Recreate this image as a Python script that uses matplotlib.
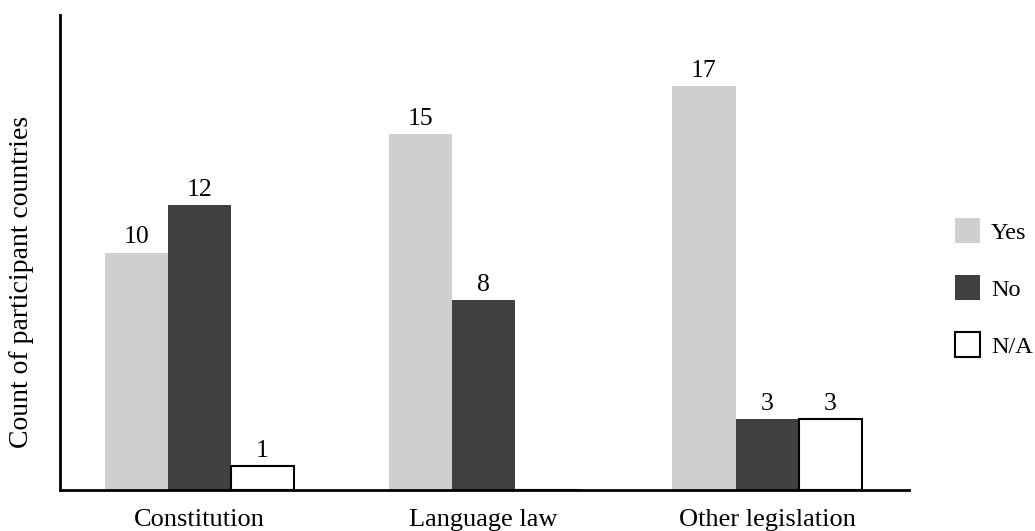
import matplotlib
matplotlib.use("Agg")
import matplotlib.pyplot as plt
import numpy as np

categories = ["Constitution", "Language law", "Other legislation"]
series_names = ["Yes", "No", "N/A"]
yes_vals = [10, 15, 17]
no_vals = [12, 8, 3]
na_vals = [1, 0, 3]

plt.rcParams['font.family'] = ['Liberation Serif', 'DejaVu Serif']

fig = plt.figure(figsize=(10.35, 5.31), dpi=100)
ax = fig.add_axes([60/1035, 1-490/531, (909-60)/1035, (490-15)/531])

x = np.arange(len(categories))
w = 0.222
styles = [dict(facecolor="#cfcfcf", edgecolor="none"),
          dict(facecolor="#404040", edgecolor="none"),
          dict(facecolor="white", edgecolor="black", linewidth=1.5)]
handles = []
for i, (vals, st) in enumerate(zip([yes_vals, no_vals, na_vals], styles)):
    pos = x + (i - 1) * w
    bars = ax.bar(pos, vals, width=w, label=series_names[i], zorder=1, **st)
    handles.append(bars)
    for p, v in zip(pos, vals):
        if v > 0:
            ax.text(p, v + 0.17, str(v), ha="center", va="bottom", fontsize=18.5)

ax.set_xlim(-0.49, 2.5)
ax.set_ylim(0, 20)
ax.set_xticks(x)
ax.set_xticklabels(categories, fontsize=19)
ax.tick_params(axis="x", length=0, pad=14)
ax.set_yticks([])
ax.set_ylabel("Count of participant countries", fontsize=20)
ax.yaxis.set_label_coords(-0.031, 0.437)
for s in ["top", "right"]:
    ax.spines[s].set_visible(False)
for s in ["left", "bottom"]:
    ax.spines[s].set_linewidth(2)
    ax.spines[s].set_zorder(5)

fig.legend(handles=handles, labels=series_names, loc="center left",
           bbox_to_anchor=(955/1035, 1-288/531), frameon=False, fontsize=17.5,
           handlelength=1.04, handleheight=1.2, labelspacing=1.28,
           handletextpad=0.45, borderaxespad=0, borderpad=0)

fig.savefig("out.png", dpi=100)
